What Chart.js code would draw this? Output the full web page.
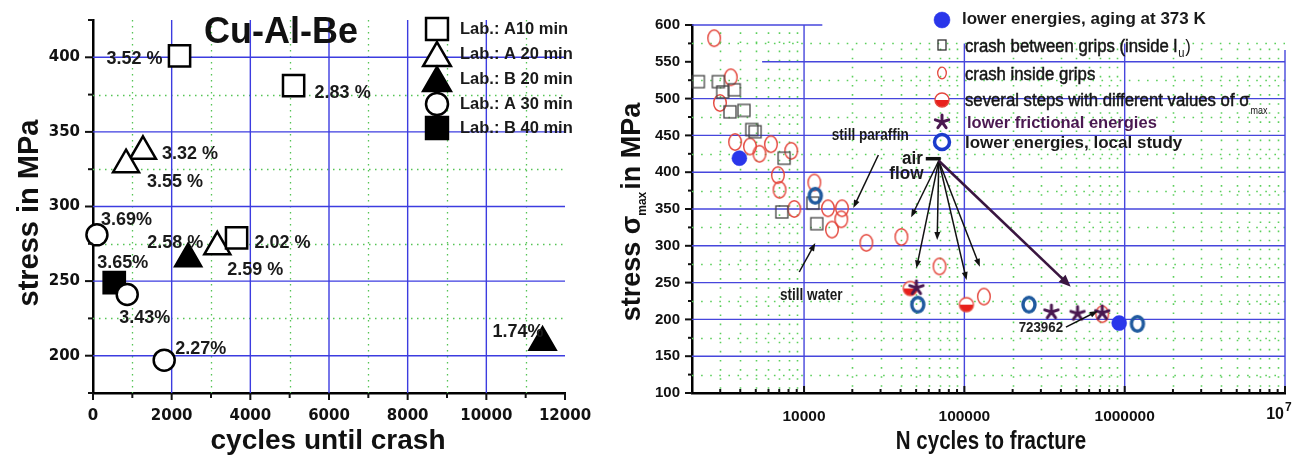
<!DOCTYPE html>
<html><head><meta charset="utf-8">
<script src="https://cdn.jsdelivr.net/npm/chart.js@4.4.1/dist/chart.umd.min.js"></script>
<style>
html,body{margin:0;padding:0;background:#fff;width:1297px;height:462px;overflow:hidden}
canvas{position:absolute;top:0}
#c1{left:0}
#c2{left:600px}
</style></head><body>
<canvas id="c1" width="600" height="462"></canvas>
<canvas id="c2" width="697" height="462"></canvas>
<script>
// ================= LEFT PANEL DATA =================
const leftTitle = 'Cu-Al-Be';
const leftXTicks = [0, 2000, 4000, 6000, 8000, 10000, 12000];
const leftXMinor = [1000, 3000, 5000, 7000, 9000, 11000];
const leftYTicks = [200, 250, 300, 350, 400];
const leftYMinor = [175, 225, 275, 325, 375, 425];
const leftNames = ['Lab.: A10 min', 'Lab.: A 20 min', 'Lab.: B 20 min', 'Lab.: A 30 min', 'Lab.: B 40 min'];
const a10Cycles = [2200, 5100, 3650];
const a10Stress = [401, 381, 279];
const a10Pct = ['3.52 %', '2.83 %', '2.02 %'];
const a20Cycles = [1270, 840, 3160];
const a20Stress = [337, 328, 273];
const a20Pct = ['3.32 %', '3.55 %', '2.59 %'];
const b20Cycles = [2420, 11430];
const b20Stress = [265, 209];
const b20Pct = ['2.58 %', '1.74%'];
const a30Cycles = [100, 870, 1810];
const a30Stress = [281, 241, 197];
const a30Pct = ['3.69%', '3.43%', '2.27%'];
const b40Cycles = [540];
const b40Stress = [249];
const b40Pct = ['3.65%'];

// ================= RIGHT PANEL DATA =================
const rXTicks = [1e4, 1e5, 1e6, 1e7];
const rXTickLabels = ['10000', '100000', '1000000', ''];   // 10^7 drawn with a real superscript below
const rYTicks = [100, 150, 200, 250, 300, 350, 400, 450, 500, 550, 600];
const rYMinor = [125, 175, 225, 275, 325, 375, 425, 475, 525, 575];
const rNames = ['lower energies, aging at 373 K', 'crash between grips (inside l', 'crash inside grips',
  'several steps with different values of \u03c3', 'lower frictional energies', 'lower energies, local study'];
const agingN = [3950, 924000];
const agingS = [419, 195];
const betweenN = [2190, 2920, 3110, 3670, 3450, 4220, 4720, 4950, 7510, 7270, 11360, 12010];
const betweenS = [523, 523, 509, 512, 482, 484, 458, 455, 419, 346, 358, 330];
const insideN = [2750, 3490, 2990, 3715, 4600, 5270, 6210, 8320, 6870, 7030, 8690, 11590, 14100, 17250, 17070, 14930, 24470, 40480, 70000, 132400, 724000];
const insideS = [582, 529, 494, 441, 435, 425, 438, 429, 396, 376, 350, 386, 351, 351, 336, 322, 304, 312, 272, 231, 207];
const stepsN = [46000, 103000];
const stepsS = [242, 220];
const fricN = [50200, 349000, 508000, 724000];
const fricS = [243, 210, 208, 209];
const localN = [11750, 51200, 252900, 1200000];
const localS = [368, 220, 220, 194];

// annotations (data coordinates)
const annTexts = [
  {t: 'still paraffin', x: 25900, y: 450},
  {t: 'still water', x: 11090, y: 233},
  {t: 'air', x: 47400, y: 418},
  {t: 'flow', x: 43500, y: 398},
  {t: '723962', x: 300000, y: 188}
];
const airOrigin = {x: 69240, y: 415.6};
const airTips = [[46550, 338.7], [50230, 269.4], [67680, 307.9], [103160, 253.5], [124920, 271.6]];
const bigTip = [460800, 244.4];
const thinArrows = [
  [[29080, 423.4], [20290, 351.4]],
  [[9330, 264.4], [11750, 303.8]],
  [[430000, 189.5], [680000, 211.5]]
];

// ================= helpers =================
const pctOffsets = [
  [[-17, 3, 'right'], [21, 7, 'left'], [18, 5, 'left']],
  [[19, 3, 'left'], [21, 17, 'left'], [10, 23, 'left']],
  [[-41, -16, 'left'], [-50, -10, 'left']],
  [[4, -15, 'left'], [-8, 24, 'left'], [11, -11, 'left']],
  [[-17, -20, 'left']]
];
const pctSets = [a10Pct, a20Pct, b20Pct, a30Pct, b40Pct];

function pts(xs, ys) { return xs.map((x, i) => ({x: x, y: ys[i]})); }

function drawMarker(ctx, style, x, y, r, fill, stroke, lw) {
  ctx.save();
  ctx.beginPath();
  if (style === 'rect') {
    const s = Math.SQRT1_2 * r;
    ctx.rect(x - s, y - s, 2 * s, 2 * s);
  } else if (style === 'triangle') {
    let a = 0;
    ctx.moveTo(x + Math.sin(a) * r, y - Math.cos(a) * r);
    a += 2 * Math.PI / 3; ctx.lineTo(x + Math.sin(a) * r, y - Math.cos(a) * r);
    a += 2 * Math.PI / 3; ctx.lineTo(x + Math.sin(a) * r, y - Math.cos(a) * r);
    ctx.closePath();
  } else {
    ctx.arc(x, y, r, 0, Math.PI * 2);
  }
  ctx.fillStyle = fill; ctx.fill();
  ctx.lineWidth = lw; ctx.strokeStyle = stroke; ctx.stroke();
  ctx.restore();
}

function txt(ctx, s, x, y, font, color, align, sx, base) {
  ctx.save();
  ctx.translate(x, y);
  ctx.scale(sx || 1, 1);
  ctx.font = font; ctx.fillStyle = color;
  ctx.textAlign = align || 'left'; ctx.textBaseline = base || 'middle';
  ctx.fillText(s, 0, 0);
  ctx.restore();
}

function arrow(ctx, x1, y1, x2, y2, color, lw, hl, hw) {
  const ang = Math.atan2(y2 - y1, x2 - x1);
  ctx.save();
  ctx.strokeStyle = color; ctx.fillStyle = color; ctx.lineWidth = lw;
  ctx.beginPath(); ctx.moveTo(x1, y1);
  ctx.lineTo(x2 - Math.cos(ang) * hl * 0.7, y2 - Math.sin(ang) * hl * 0.7); ctx.stroke();
  ctx.beginPath(); ctx.moveTo(x2, y2);
  ctx.lineTo(x2 - Math.cos(ang) * hl + Math.sin(ang) * hw, y2 - Math.sin(ang) * hl - Math.cos(ang) * hw);
  ctx.lineTo(x2 - Math.cos(ang) * hl - Math.sin(ang) * hw, y2 - Math.sin(ang) * hl + Math.cos(ang) * hw);
  ctx.closePath(); ctx.fill();
  ctx.restore();
}

function mk(w, h, draw) {
  const c = document.createElement('canvas'); c.width = w; c.height = h;
  draw(c.getContext('2d'), w, h); return c;
}

// ================= LEFT CHART =================
const L_BLUE = '#3c3ce0', L_GREEN = '#55c455';
const leftPlugin = {
  id: 'leftDeco',
  beforeDatasetsDraw(chart) {
    const {ctx, chartArea: a, scales: {x, y}} = chart;
    ctx.save();
    ctx.strokeStyle = L_GREEN; ctx.lineWidth = 1.3; ctx.setLineDash([1.5, 4.5]);
    leftXMinor.forEach(v => { const p = Math.round(x.getPixelForValue(v)) + 0.5; ctx.beginPath(); ctx.moveTo(p, a.top); ctx.lineTo(p, a.bottom); ctx.stroke(); });
    [225, 275, 325, 375].forEach(v => { const p = Math.round(y.getPixelForValue(v)) + 0.5; ctx.beginPath(); ctx.moveTo(a.left, p); ctx.lineTo(a.right, p); ctx.stroke(); });
    ctx.setLineDash([]); ctx.strokeStyle = L_BLUE; ctx.lineWidth = 1.4;
    leftXTicks.slice(1, -1).forEach(v => { const p = x.getPixelForValue(v); ctx.beginPath(); ctx.moveTo(p, a.top); ctx.lineTo(p, a.bottom); ctx.stroke(); });
    leftYTicks.forEach(v => { const p = y.getPixelForValue(v); ctx.beginPath(); ctx.moveTo(a.left, p); ctx.lineTo(a.right, p); ctx.stroke(); });
    ctx.restore();
  },
  afterDraw(chart) {
    const {ctx, chartArea: a, scales: {x, y}} = chart;
    ctx.save();
    ctx.strokeStyle = '#111'; ctx.lineWidth = 2;
    leftYTicks.forEach(v => { const p = y.getPixelForValue(v); ctx.beginPath(); ctx.moveTo(a.left - 8, p); ctx.lineTo(a.left, p); ctx.stroke(); });
    leftYMinor.forEach(v => { const p = y.getPixelForValue(v); ctx.beginPath(); ctx.moveTo(a.left - 5, p); ctx.lineTo(a.left, p); ctx.stroke(); });
    leftXTicks.forEach(v => { const p = x.getPixelForValue(v); ctx.beginPath(); ctx.moveTo(p, a.bottom); ctx.lineTo(p, a.bottom + 7); ctx.stroke(); });
    leftXMinor.forEach(v => { const p = x.getPixelForValue(v); ctx.beginPath(); ctx.moveTo(p, a.bottom); ctx.lineTo(p, a.bottom + 5); ctx.stroke(); });
    chart.data.datasets.forEach((ds, i) => {
      const meta = chart.getDatasetMeta(i);
      meta.data.forEach((el, j) => {
        const o = pctOffsets[i][j];
        txt(ctx, pctSets[i][j], el.x + o[0], el.y + o[1], 'bold 18px "Liberation Sans", Arial, sans-serif', '#1a1a1a', o[2]);
      });
    });
    txt(ctx, leftTitle, 281, 43, 'bold 36px "Liberation Sans", Arial, sans-serif', '#111', 'center', 1, 'alphabetic');
    const ly = [29, 54, 79, 104, 128];
    chart.data.datasets.forEach((ds, i) => {
      const st = ds.pointStyle;
      drawMarker(ctx, st, 437, ly[i] + (st === 'triangle' ? 4 : 0), st === 'triangle' ? 16 : (st === 'rect' ? 15.5 : 11), ds.pointBackgroundColor, '#000', 2.5);
    });
    chart.data.datasets.forEach((ds, i) => {
      txt(ctx, ds.label, 460, ly[i], 'bold 16.5px "Liberation Sans", Arial, sans-serif', '#1a1a1a', 'left');
    });
    txt(ctx, 'cycles until crash', 328, 441, 'bold 28px "Liberation Sans", Arial, sans-serif', '#111', 'center');
    ctx.translate(30, 213); ctx.rotate(-Math.PI / 2);
    txt(ctx, 'stress in MPa', 0, 0, 'bold 29px "Liberation Sans", Arial, sans-serif', '#111', 'center');
    ctx.restore();
  }
};

const tickFontL = {family: '"DejaVu Sans", sans-serif', size: 15, weight: 'bold'};
new Chart(document.getElementById('c1'), {
  type: 'scatter',
  data: {
    datasets: [
      {label: leftNames[0], data: pts(a10Cycles, a10Stress), pointStyle: 'rect', pointRadius: 15, pointBackgroundColor: '#fff', pointBorderColor: '#000', pointBorderWidth: 2.5},
      {label: leftNames[1], data: pts(a20Cycles, a20Stress), pointStyle: 'triangle', pointRadius: 15, pointBackgroundColor: '#fff', pointBorderColor: '#000', pointBorderWidth: 2.5},
      {label: leftNames[2], data: pts(b20Cycles, b20Stress), pointStyle: 'triangle', pointRadius: 15, pointBackgroundColor: '#000', pointBorderColor: '#000', pointBorderWidth: 2.5},
      {label: leftNames[3], data: pts(a30Cycles, a30Stress), pointStyle: 'circle', pointRadius: 10.5, pointBackgroundColor: '#fff', pointBorderColor: '#000', pointBorderWidth: 2.5},
      {label: leftNames[4], data: pts(b40Cycles, b40Stress), pointStyle: 'rect', pointRadius: 15, pointBackgroundColor: '#000', pointBorderColor: '#000', pointBorderWidth: 2.5}
    ]
  },
  options: {
    responsive: false, animation: false, devicePixelRatio: 1,
    clip: false,
    layout: {padding: {left: 0, top: 20, right: 35, bottom: 0}},
    plugins: {legend: {display: false}, tooltip: {enabled: false}},
    scales: {
      x: {
        type: 'linear', min: 0, max: 12000,
        afterBuildTicks: s => { s.ticks = leftXTicks.map(v => ({value: v})); },
        afterFit: s => { s.height = 69; },
        ticks: {font: tickFontL, color: '#111', padding: 6, maxRotation: 0, autoSkip: false, callback: v => String(v)},
        grid: {display: false},
        border: {display: true, color: '#000', width: 2.5}
      },
      y: {
        type: 'linear', min: 175, max: 425,
        afterBuildTicks: s => { s.ticks = leftYTicks.map(v => ({value: v})); },
        afterFit: s => { s.width = 93; },
        ticks: {font: tickFontL, color: '#111', padding: 5, autoSkip: false, callback: v => String(v)},
        grid: {display: false},
        border: {display: true, color: '#000', width: 2.5}
      }
    }
  },
  plugins: [leftPlugin]
});

// ================= RIGHT CHART =================
const R_BLUE = '#4646dc', R_GREEN = '#5ccf5c';
const RED = '#e4463c', BLUE_F = '#2a36ea', BLUE_O = '#1f5a9e', PURPLE = '#4a1850';
const redEllipse = mk(16, 20, (g, w, h) => { g.strokeStyle = RED; g.lineWidth = 1.4; g.beginPath(); g.ellipse(w / 2, h / 2, 6.3, 8.2, 0, 0, Math.PI * 2); g.stroke(); });
const grayRect = mk(16, 16, (g, w, h) => { g.strokeStyle = '#444'; g.lineWidth = 1.3; g.strokeRect(2, 2, 12, 12); });
const halfRed = mk(18, 18, (g, w, h) => {
  g.fillStyle = '#fff'; g.beginPath(); g.arc(9, 9, 7, 0, Math.PI * 2); g.fill();
  g.fillStyle = '#e8201c'; g.beginPath(); g.arc(9, 9, 7, 0, Math.PI); g.closePath(); g.fill();
  g.strokeStyle = RED; g.lineWidth = 1.4; g.beginPath(); g.arc(9, 9, 7, 0, Math.PI * 2); g.stroke();
});
const blueO = mk(20, 22, (g, w, h) => { g.strokeStyle = BLUE_O; g.lineWidth = 3.4; g.beginPath(); g.ellipse(w / 2, h / 2, 6, 7.3, 0, 0, Math.PI * 2); g.stroke(); });
const star = mk(20, 20, (g, w, h) => {
  g.strokeStyle = PURPLE; g.lineCap = 'round';
  for (let k = 0; k < 5; k++) {
    const a = -Math.PI / 2 + k * 2 * Math.PI / 5;
    g.lineWidth = 3; g.beginPath(); g.moveTo(10, 10); g.lineTo(10 + Math.cos(a) * 7, 10 + Math.sin(a) * 7); g.stroke();
  }
});

const smallRect = mk(12, 14, (g) => { g.strokeStyle = '#333'; g.lineWidth = 1.3; g.strokeRect(2, 2, 8, 10); });
const smallEllipse = mk(12, 16, (g) => { g.strokeStyle = RED; g.lineWidth = 1.3; g.beginPath(); g.ellipse(6, 8, 4.3, 5.8, 0, 0, Math.PI * 2); g.stroke(); });
const legendBlueO = mk(22, 22, (g) => { g.strokeStyle = '#1a3ccc'; g.lineWidth = 3.5; g.beginPath(); g.ellipse(11, 11, 7.5, 7.5, 0, 0, Math.PI * 2); g.stroke(); });

function minorLog() {
  const m = [];
  [1e3, 1e4, 1e5, 1e6].forEach(d => { for (let k = 2; k <= 9; k++) { const v = d * k; if (v > 2000) m.push(v); } });
  return m;
}

const rightPlugin = {
  id: 'rightDeco',
  beforeDatasetsDraw(chart) {
    const {ctx, chartArea: a, scales: {x, y}} = chart;
    ctx.save();
    ctx.strokeStyle = R_GREEN; ctx.lineWidth = 1.6; ctx.setLineDash([1.6, 7.5]);
    minorLog().forEach(v => {
      const p = Math.round(x.getPixelForValue(v)) + 0.5;
      const top = v < 13000 ? y.getPixelForValue(590) : y.getPixelForValue(568);
      ctx.beginPath(); ctx.moveTo(p, top); ctx.lineTo(p, a.bottom); ctx.stroke();
    });
    rYMinor.forEach(v => {
      const p = Math.round(y.getPixelForValue(v)) + 0.5;
      ctx.beginPath(); ctx.moveTo(a.left, p); ctx.lineTo(a.right, p); ctx.stroke();
    });
    ctx.setLineDash([]); ctx.strokeStyle = R_BLUE; ctx.lineWidth = 1.4;
    rYTicks.forEach(v => {
      if (v === 100) return;
      let x0 = a.left, x1 = a.right;
      if (v === 600) { x1 = x.getPixelForValue(13000); }
      if (v === 550) { x0 = x.getPixelForValue(5475); }
      const p = y.getPixelForValue(v);
      ctx.beginPath(); ctx.moveTo(x0, p); ctx.lineTo(x1, p); ctx.stroke();
    });
    rXTicks.forEach(v => {
      const p = x.getPixelForValue(v);
      const top = v === 1e4 ? a.top : y.getPixelForValue(v === 1e7 ? 566 : 575);
      ctx.beginPath(); ctx.moveTo(p, top); ctx.lineTo(p, a.bottom); ctx.stroke();
    });
    ctx.restore();
  },
  afterDraw(chart) {
    const {ctx, chartArea: a, scales: {x, y}} = chart;
    ctx.save();
    ctx.strokeStyle = '#111'; ctx.lineWidth = 2;
    rYTicks.forEach(v => { const p = y.getPixelForValue(v); ctx.beginPath(); ctx.moveTo(a.left - 7, p); ctx.lineTo(a.left, p); ctx.stroke(); });
    rYMinor.forEach(v => { const p = y.getPixelForValue(v); ctx.beginPath(); ctx.moveTo(a.left - 4, p); ctx.lineTo(a.left, p); ctx.stroke(); });
    minorLog().forEach(v => { const p = x.getPixelForValue(v); ctx.beginPath(); ctx.moveTo(p, a.bottom); ctx.lineTo(p, a.bottom - 4); ctx.stroke(); });
    rXTicks.forEach(v => { const p = x.getPixelForValue(v); ctx.beginPath(); ctx.moveTo(p, a.bottom); ctx.lineTo(p, a.bottom - 7); ctx.stroke(); });

    const F = '"Liberation Sans", Arial, sans-serif';
    // 10^7 tick label with superscript
    const p7 = x.getPixelForValue(1e7);
    txt(ctx, '10', p7 - 1, 415, 'bold 16px ' + F, '#111', 'right');
    txt(ctx, '7', p7, 408, 'bold 12px ' + F, '#111', 'left');

    annTexts.forEach(t => {
      const px = x.getPixelForValue(t.x), py = y.getPixelForValue(t.y);
      const big = t.t === 'air' || t.t === 'flow';
      if (t.t === '723962') txt(ctx, t.t, px, py, 'bold 14px ' + F, '#222', 'center', 0.95);
      else txt(ctx, t.t, px, py, 'bold ' + (big ? 18 : 17) + 'px ' + F, '#1a1a1a', 'center', big ? 0.95 : 0.8);
    });
    const ox = x.getPixelForValue(airOrigin.x), oy = y.getPixelForValue(airOrigin.y);
    ctx.strokeStyle = '#111'; ctx.lineWidth = 3.5;
    ctx.beginPath(); ctx.moveTo(ox - 13, oy - 2); ctx.lineTo(ox + 2, oy - 2); ctx.stroke();
    airTips.forEach(t => arrow(ctx, ox, oy, x.getPixelForValue(t[0]), y.getPixelForValue(t[1]), '#111', 1.5, 8, 3));
    arrow(ctx, ox, oy, x.getPixelForValue(bigTip[0]), y.getPixelForValue(bigTip[1]), '#3a1640', 2.6, 12, 5);
    thinArrows.forEach(t => arrow(ctx, x.getPixelForValue(t[0][0]), y.getPixelForValue(t[0][1]), x.getPixelForValue(t[1][0]), y.getPixelForValue(t[1][1]), '#111', 1.5, 8, 3));

    const ds = chart.data.datasets;
    const byLabel = l => ds.find(d => d.label === l);
    const mx = 342;
    drawMarker(ctx, 'circle', mx, 20, 8, byLabel(rNames[0]).pointBackgroundColor, byLabel(rNames[0]).pointBackgroundColor, 0.5);
    ctx.drawImage(smallRect, mx - 6, 45 - 7);
    ctx.drawImage(smallEllipse, mx - 6, 73 - 8);
    ctx.drawImage(halfRed, mx - 9, 100 - 9);
    ctx.drawImage(star, mx - 10, 122 - 10);
    ctx.drawImage(legendBlueO, mx - 11, 142 - 11);
    txt(ctx, rNames[0], 362, 19, 'bold 17px ' + F, '#1a1a1a', 'left');
    const condensed = (s, yy) => {
      ctx.save(); ctx.translate(365, yy); ctx.scale(0.93, 1);
      ctx.font = '18px ' + F; ctx.fillStyle = '#151515'; ctx.strokeStyle = '#151515'; ctx.lineWidth = 0.5;
      ctx.textBaseline = 'middle'; ctx.fillText(s, 0, 0); ctx.strokeText(s, 0, 0);
      const w = ctx.measureText(s).width; ctx.restore(); return 365 + w * 0.93;
    };
    let e = condensed(rNames[1], 47);
    txt(ctx, 'u', e + 1, 54, '12px ' + F, '#151515', 'left', 0.93);
    txt(ctx, ')', e + 8, 47, '18px ' + F, '#151515', 'left', 0.93);
    condensed(rNames[2], 75);
    e = condensed(rNames[3], 101);
    txt(ctx, 'max', e + 1, 111, '10px ' + F, '#151515', 'left', 0.9);
    txt(ctx, rNames[4], 367, 123, 'bold 16.5px ' + F, PURPLE, 'left');
    txt(ctx, rNames[5], 365, 143, 'bold 17px ' + F, '#1a1a1a', 'left');

    txt(ctx, 'N cycles to fracture', 391, 442, 'bold 25px ' + F, '#111', 'center', 0.82);
    ctx.save();
    ctx.translate(33, 212); ctx.rotate(-Math.PI / 2);
    ctx.font = 'bold 27px ' + F;
    const p1 = 'stress \u03c3', p3 = 'in MPa';
    const w1 = ctx.measureText(p1).width, w3 = ctx.measureText(p3).width;
    ctx.font = 'bold 12px ' + F; const w2 = ctx.measureText('max').width;
    const tot = w1 + w2 + w3 + 2; let cx = -tot / 2;
    txt(ctx, p1, cx, 0, 'bold 27px ' + F, '#111', 'left'); cx += w1;
    txt(ctx, 'max', cx, 10, 'bold 12px ' + F, '#111', 'left'); cx += w2 + 2;
    txt(ctx, p3, cx, 0, 'bold 27px ' + F, '#111', 'left');
    ctx.restore();
    ctx.restore();
  }
};

const tickFontR = {family: '"Liberation Sans", Arial, sans-serif', size: 15, weight: 'bold'};
const tickFontRX = {family: '"Liberation Sans", Arial, sans-serif', size: 15.5, weight: 'bold'};
new Chart(document.getElementById('c2'), {
  type: 'scatter',
  data: {
    datasets: [
      {label: rNames[4], data: pts(fricN, fricS), pointStyle: star, pointRadius: 8},
      {label: rNames[5], data: pts(localN, localS), pointStyle: blueO, pointRadius: 8},
      {label: rNames[0], data: pts(agingN, agingS), pointStyle: 'circle', pointRadius: 7.5, pointBackgroundColor: BLUE_F, pointBorderColor: BLUE_F, pointBorderWidth: 0.5},
      {label: rNames[3], data: pts(stepsN, stepsS), pointStyle: halfRed, pointRadius: 8},
      {label: rNames[1], data: pts(betweenN, betweenS), pointStyle: grayRect, pointRadius: 8},
      {label: rNames[2], data: pts(insideN, insideS), pointStyle: redEllipse, pointRadius: 8}
    ]
  },
  options: {
    responsive: false, animation: false, devicePixelRatio: 1,
    clip: false,
    layout: {padding: {left: 0, top: 25, right: 12, bottom: 0}},
    plugins: {legend: {display: false}, tooltip: {enabled: false}},
    scales: {
      x: {
        type: 'logarithmic', min: 2000, max: 1e7,
        afterBuildTicks: s => { s.ticks = rXTicks.map(v => ({value: v})); },
        afterFit: s => { s.height = 69; },
        ticks: {font: tickFontRX, color: '#111', padding: 6, maxRotation: 0, autoSkip: false,
          callback: (v) => { const i = rXTicks.indexOf(v); return i >= 0 ? rXTickLabels[i] : ''; }},
        grid: {display: false},
        border: {display: true, color: '#000', width: 2.5}
      },
      y: {
        type: 'linear', min: 100, max: 600,
        afterBuildTicks: s => { s.ticks = rYTicks.map(v => ({value: v})); },
        afterFit: s => { s.width = 92; },
        ticks: {font: tickFontR, color: '#111', padding: 4, autoSkip: false},
        grid: {display: false},
        border: {display: true, color: '#000', width: 2.5}
      }
    }
  },
  plugins: [rightPlugin]
});
</script>
</body></html>
